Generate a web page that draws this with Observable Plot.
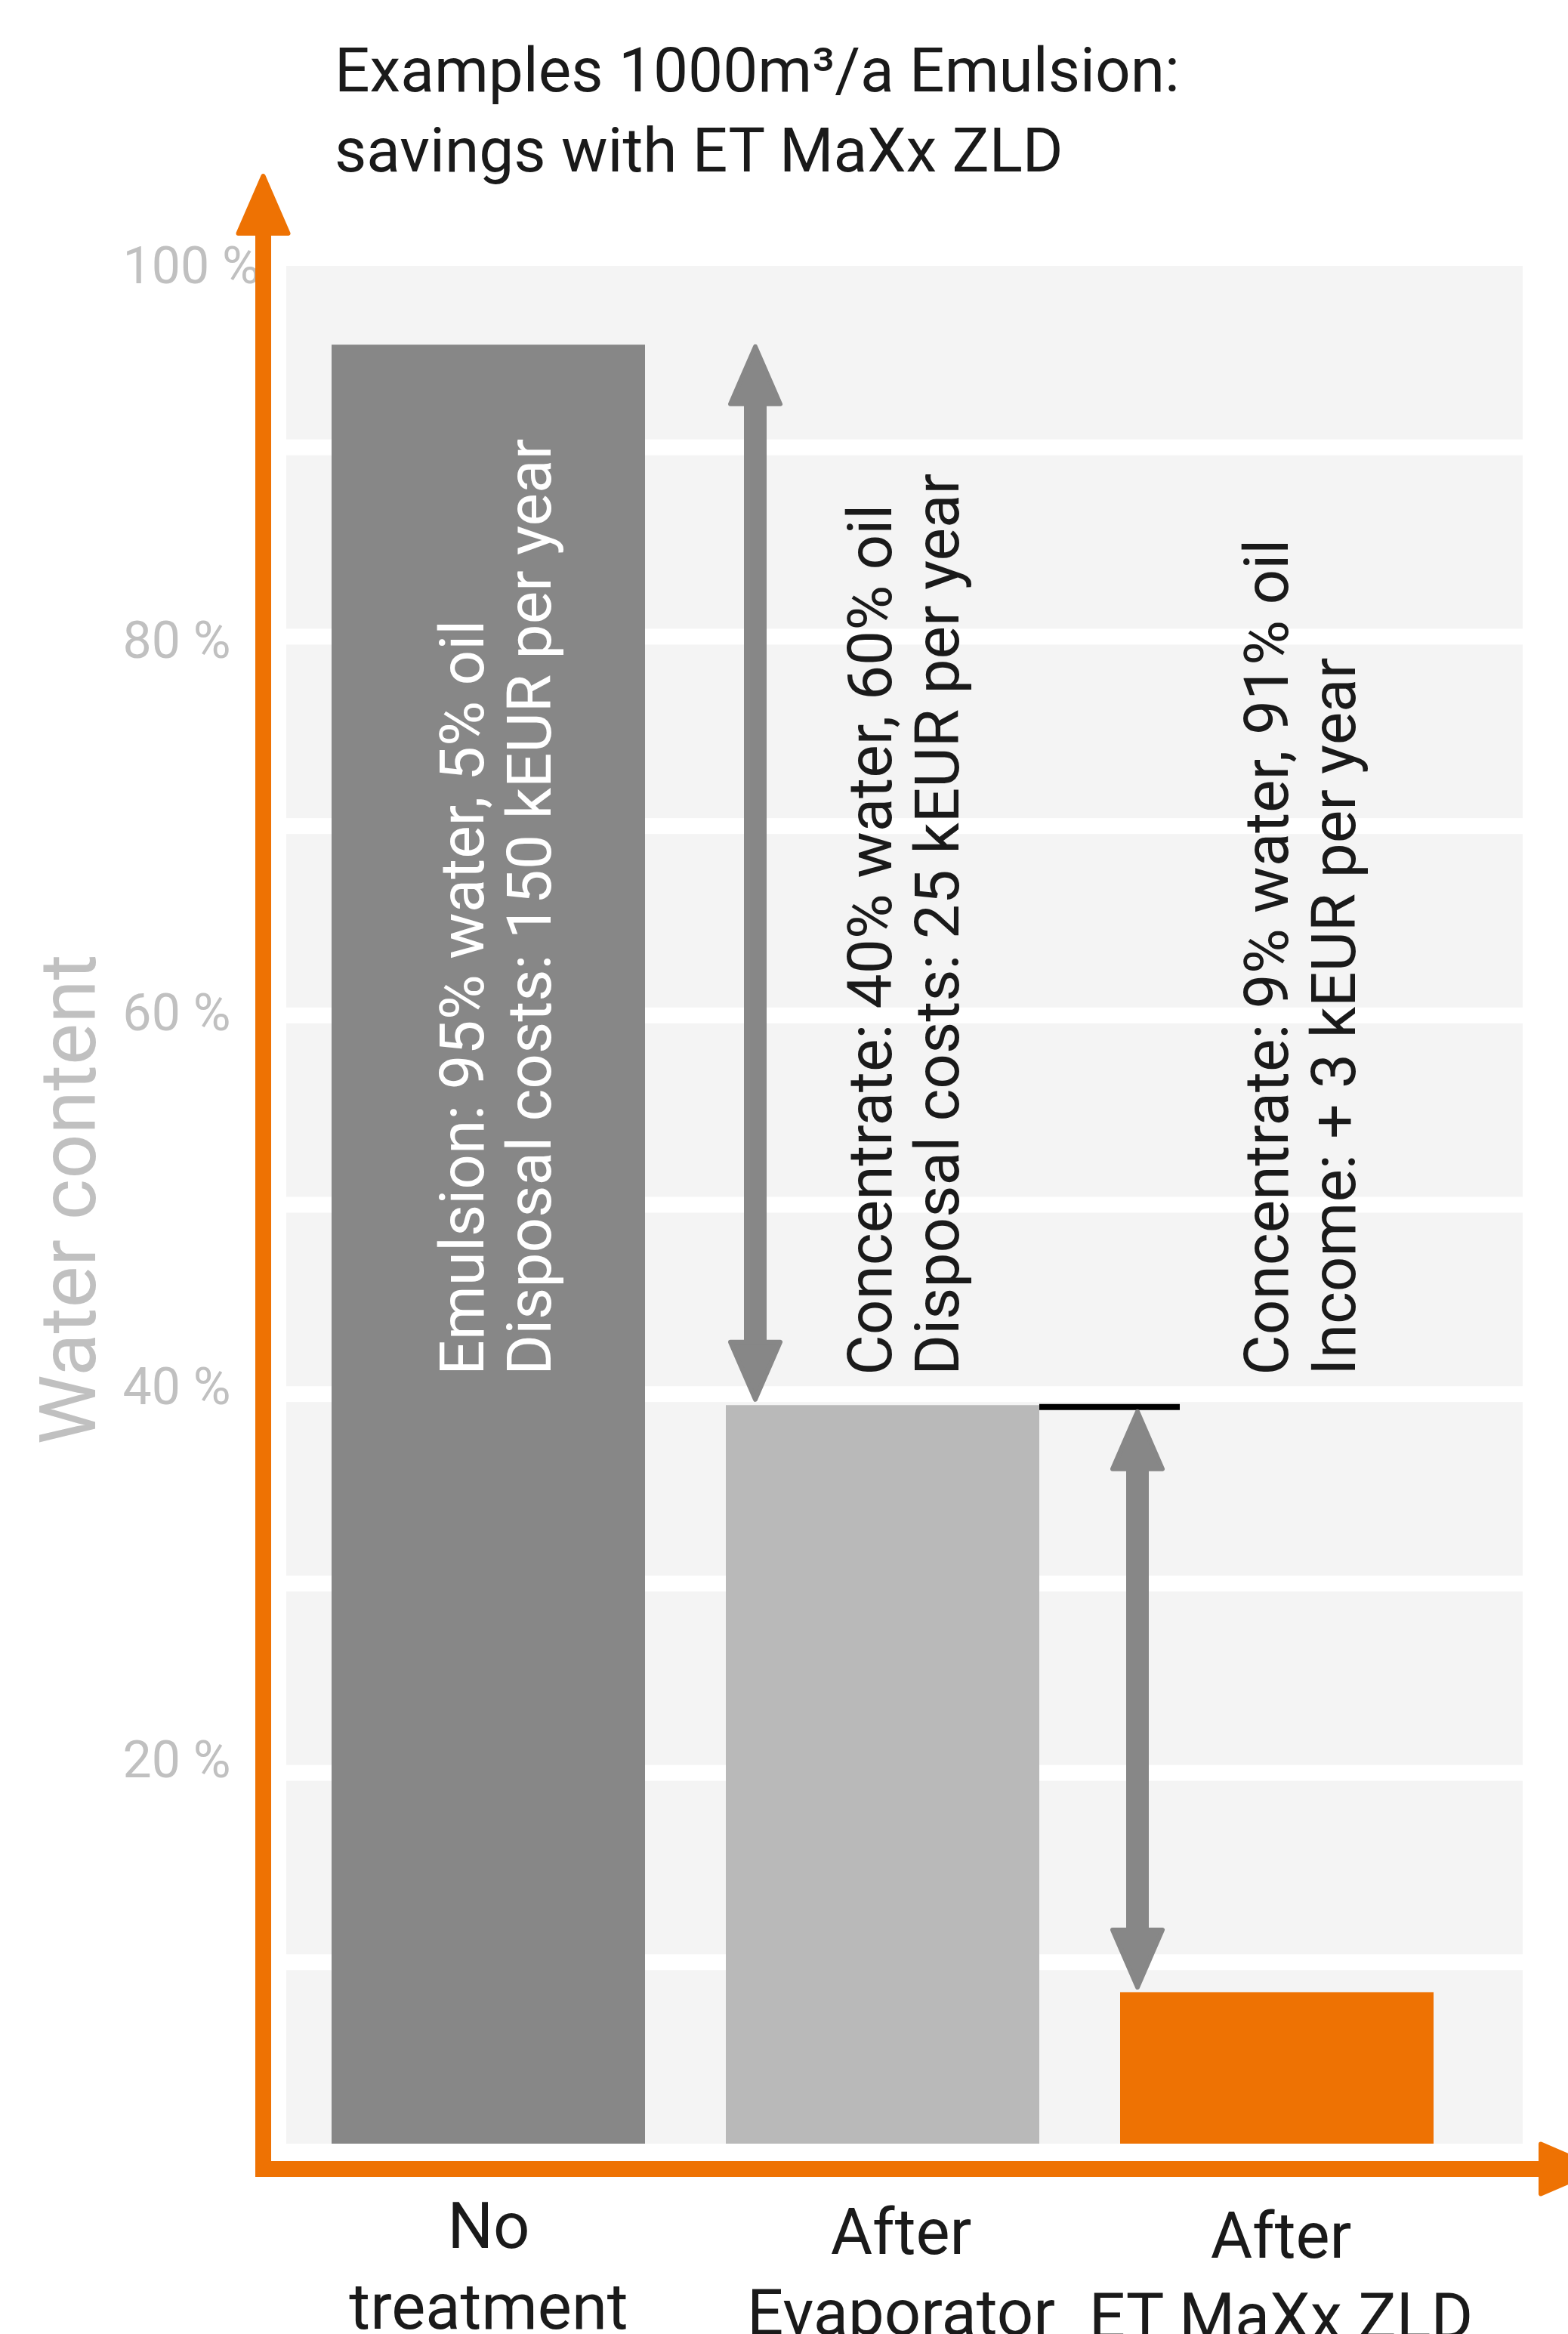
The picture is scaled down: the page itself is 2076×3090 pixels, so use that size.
<!DOCTYPE html>
<html>
<head>
<meta charset="utf-8">
<script src="https://cdn.jsdelivr.net/npm/d3@7"></script>
<script src="https://cdn.jsdelivr.net/npm/@observablehq/plot@0.6"></script>
<style>
  html, body { margin: 0; padding: 0; background: #ffffff; overflow: hidden; }
  #wrap { position: relative; width: 2076px; height: 3090px; }
  #title {
    position: absolute; left: 443px; top: 40px;
    font-family: Roboto, "Noto Sans", sans-serif; font-size: 82px; line-height: 106px;
    color: #1a1a1a; white-space: nowrap; z-index: 2;
  }
  #chart svg { display: block; }
</style>
</head>
<body>
<div id="wrap">
  <div id="title">Examples 1000m³/a Emulsion:<br>savings with ET MaXx ZLD</div>
  <div id="chart"></div>
</div>
<script>
// ---- data ----
const categories = ["No treatment", "After Evaporator", "After ET MaXx ZLD"];
const water = [95, 39, 8];
const xLabels = ["No\ntreatment", "After\nEvaporator", "After\nET MaXx ZLD"];
const noteLine1 = ["Emulsion: 95% water, 5% oil", "Concentrate: 40% water, 60% oil", "Concentrate: 9% water, 91% oil"];
const noteLine2 = ["Disposal costs: 150 kEUR per year", "Disposal costs: 25 kEUR per year", "Income: + 3 kEUR per year"];
const yTicks = [20, 40, 60, 80, 100];
const gridSteps = [0, 10, 20, 30, 40, 50, 60, 70, 80, 90];
const yLabel = "Water content";

// ---- styles ----
const barColors = ["#878787", "#b9b9b9", "#ee7203"];
const textColors = ["#ffffff", "#1a1a1a", "#1a1a1a"];
const orange = "#ee7203";
const gray = "#878787";
const textBaseY = 40.6;
const textDx = [82, 100, 103];
const labelDx = [0, 24, 5];
const labelDy = [0, 8, 13];
const tickDy = [-6, 2, 8, 16, 22];
const arrowDx = [-169, -185];
const tipUpDy = [2, 8];
const tipDownDy = [-8, -7];

const rows = categories.map((c, i) => ({cat: c, water: water[i], note: noteLine1[i] + "\n" + noteLine2[i], label: xLabels[i]}));
const arrows = [
  {cat: categories[1], lo: water[1], hi: water[0]},
  {cat: categories[2], lo: water[2], hi: water[1]}
];

const headUp = {draw(ctx) { ctx.moveTo(0, 0); ctx.lineTo(33, 76); ctx.lineTo(-33, 76); ctx.closePath(); }};
const headDown = {draw(ctx) { ctx.moveTo(0, 0); ctx.lineTo(33, -76); ctx.lineTo(-33, -76); ctx.closePath(); }};

// orange axis arrows (chart chrome), placed from the plot's dimensions
function axisArrows(index, scales, values, dims) {
  const {width, height, marginLeft, marginTop, marginBottom} = dims;
  const y0 = height - marginBottom;
  const ax = marginLeft - 30.5;
  const ay = y0 + 33.5;
  const g = d3.create("svg:g").attr("fill", orange).attr("stroke", orange)
    .attr("stroke-linejoin", "round");
  g.append("rect").attr("x", ax - 10.5).attr("y", marginTop - 25).attr("width", 21)
    .attr("height", ay + 10.5 - (marginTop - 25)).attr("stroke", "none");
  g.append("rect").attr("x", ax - 10.5).attr("y", ay - 10.5).attr("width", width - 39 - (ax - 10.5) + 5)
    .attr("height", 21).attr("stroke", "none");
  const tipY = marginTop - 98;
  g.append("path").attr("stroke-width", 6)
    .attr("d", `M${ax},${tipY}L${ax + 33},${tipY + 76}L${ax - 33},${tipY + 76}Z`);
  const bx = width - 36;
  g.append("path").attr("stroke-width", 6)
    .attr("d", `M${bx},${ay - 33}L${bx + 76},${ay}L${bx},${ay + 33}Z`);
  return g.node();
}

const marks = [
  // background bands with white gaps
  Plot.rect(gridSteps, {y1: d => d, y2: d => d + 10, fill: "#f4f4f4", insetTop: 21}),
  // bars
  Plot.barY(rows, {x: "cat", y: "water", fill: "cat"}),
  // black marker line at evaporator level
  Plot.tickY([rows[1]], {x: () => categories[2], y: "water", stroke: "#000000", strokeWidth: 8, dx: -107, dy: 2, insetRight: 229}),
  // gray double arrows
  ...arrows.flatMap((a, i) => [
    Plot.ruleX([a], {x: "cat", y1: "hi", y2: "lo", stroke: gray, strokeWidth: 30, dx: arrowDx[i], insetTop: 60, insetBottom: 60}),
    Plot.dot([a], {x: "cat", y: "hi", symbol: headUp, fill: gray, stroke: gray, strokeWidth: 6, strokeLinejoin: "round", dx: arrowDx[i], dy: tipUpDy[i]}),
    Plot.dot([a], {x: "cat", y: "lo", symbol: headDown, fill: gray, stroke: gray, strokeWidth: 6, strokeLinejoin: "round", dx: arrowDx[i], dy: tipDownDy[i]})
  ]),
  // rotated notes
  ...rows.map((r, i) => Plot.text([r], {
    x: "cat", y: () => textBaseY, text: "note", rotate: -90, textAnchor: "start", lineAnchor: "bottom",
    lineHeight: 1.085, fontSize: 82, fill: textColors[i], dx: textDx[i]
  })),
  // y tick labels
  ...yTicks.map((t, i) => Plot.axisY({ticks: [t], tickFormat: d => `${d} %`, tickSize: 0, tickPadding: 217, textAnchor: "start",
    fontSize: 68, color: "#c0c0c0", dy: tickDy[i], label: null})),
  // y axis title
  Plot.text([yLabel], {frameAnchor: "left", text: d => d, rotate: -90, textAnchor: "middle", lineAnchor: "bottom",
    fontSize: 104, fill: "#c0c0c0", dx: -254, dy: 3}),
  // x labels
  ...categories.map((c, i) => Plot.axisX({ticks: [c], tickFormat: d => xLabels[categories.indexOf(d)], tickSize: 0,
    tickPadding: 61, lineAnchor: "top", lineHeight: 1.26, fontSize: 85, color: "#1a1a1a",
    dx: labelDx[i], dy: labelDy[i], label: null})),
  axisArrows
];

const chart = Plot.plot({
  width: 2076,
  height: 3090,
  marginTop: 331,
  marginBottom: 252,
  marginLeft: 379,
  marginRight: 60,
  style: {fontFamily: "Roboto, 'Noto Sans', sans-serif", background: "#ffffff", overflow: "hidden"},
  x: {type: "band", domain: categories, range: [330.6, 2006.2], padding: 0.2052},
  y: {domain: [0, 100]},
  color: {domain: categories, range: barColors},
  marks
});
document.getElementById("chart").appendChild(chart);
</script>
</body>
</html>
